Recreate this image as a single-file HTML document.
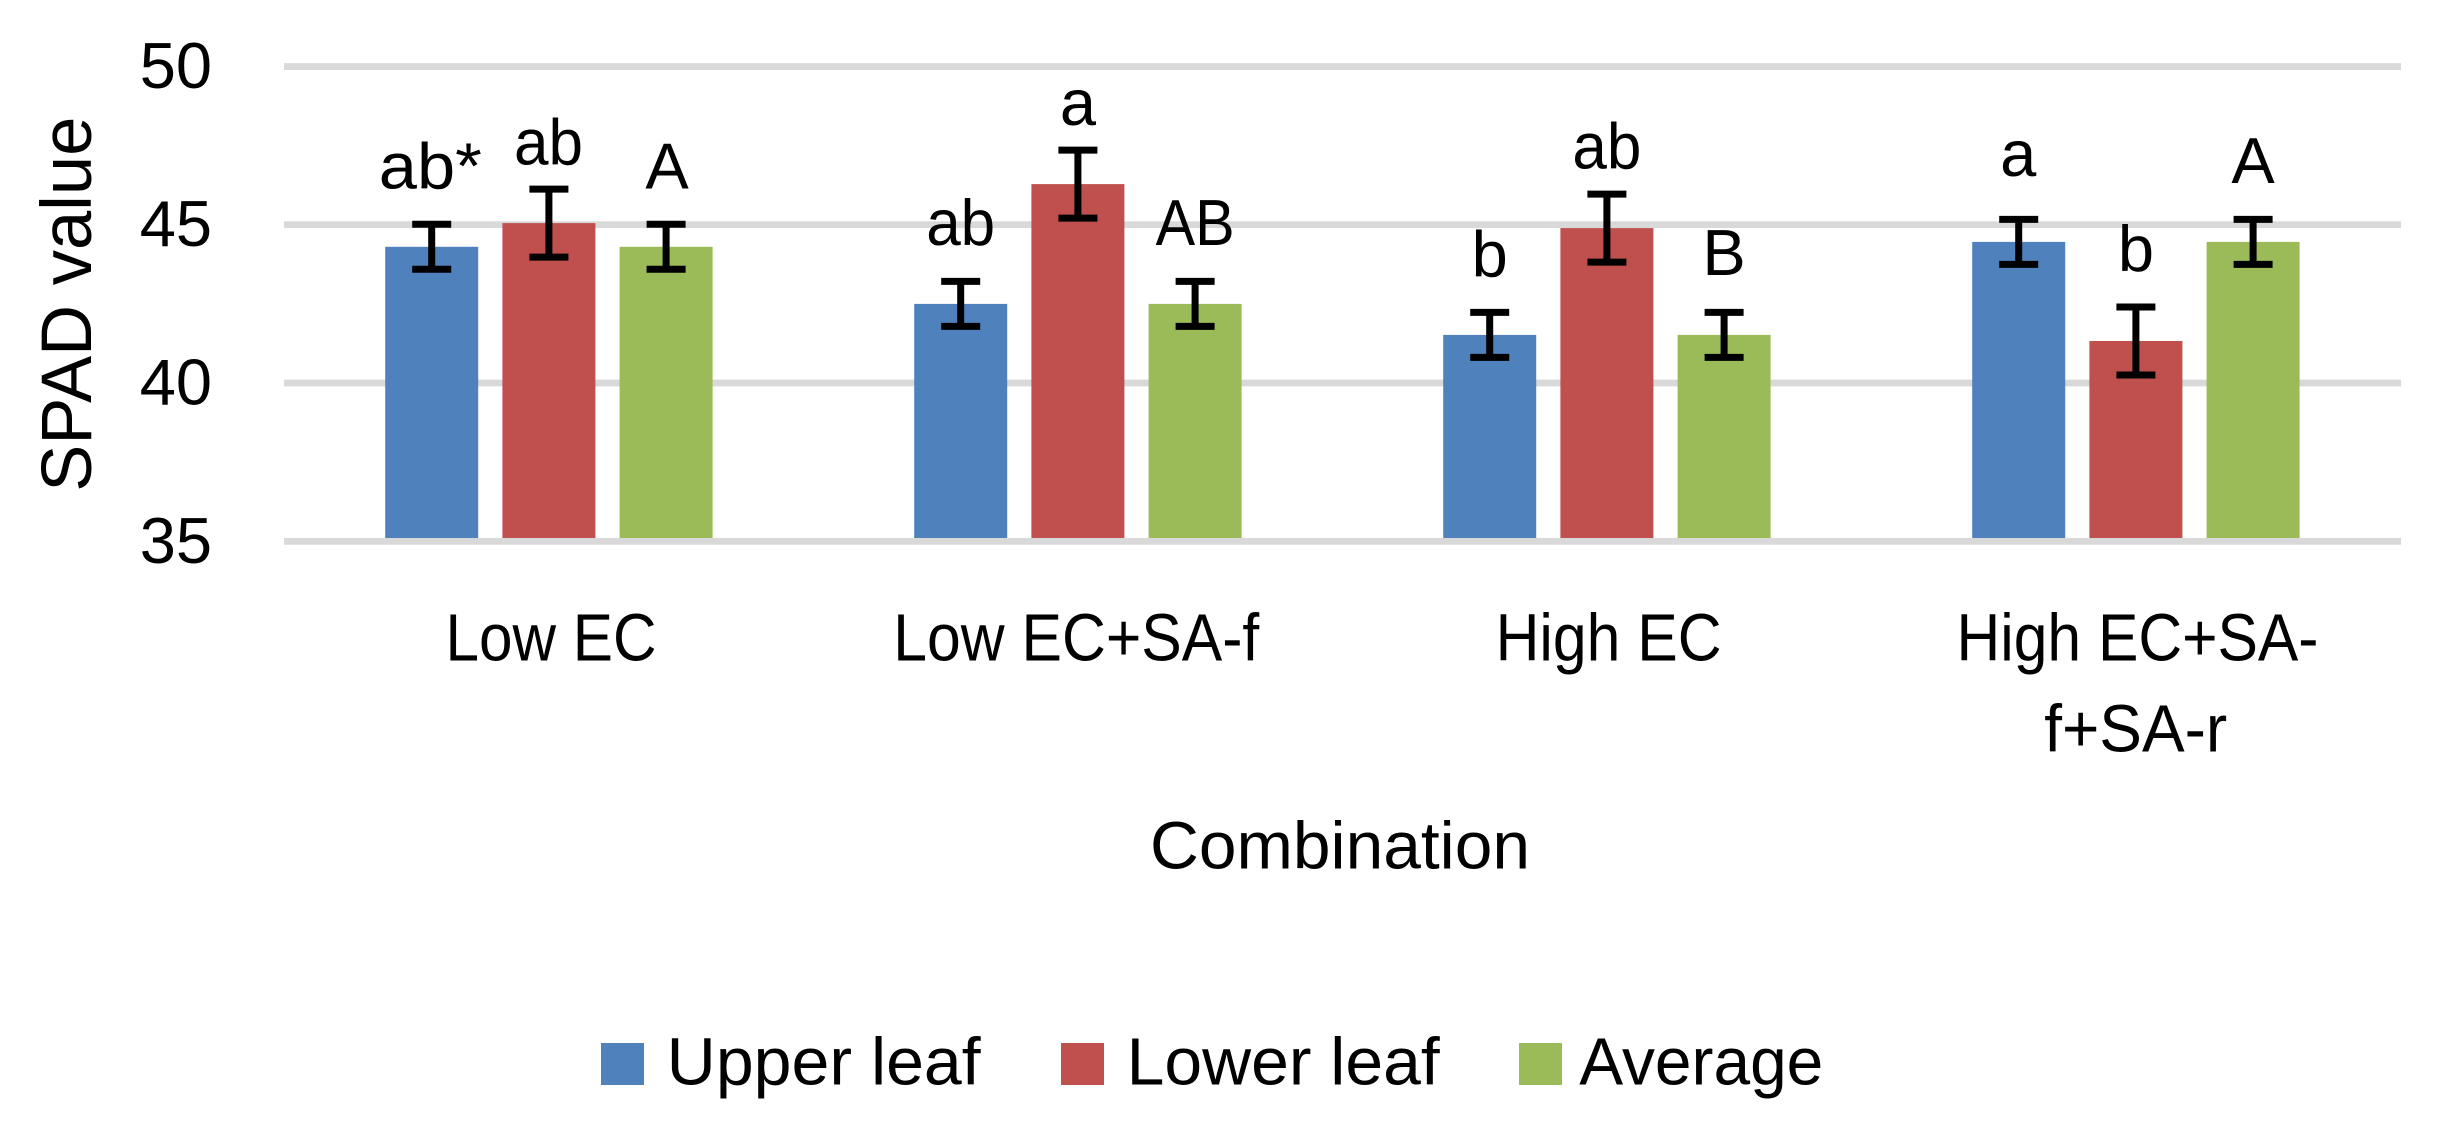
<!DOCTYPE html>
<html>
<head>
<meta charset="utf-8">
<style>
  html, body { margin: 0; padding: 0; background: #ffffff; }
  svg { display: block; }
  text { font-family: "Liberation Sans", sans-serif; fill: #000000; }
</style>
</head>
<body>
<svg width="2443" height="1135" viewBox="0 0 2443 1135" xmlns="http://www.w3.org/2000/svg">
  <rect x="0" y="0" width="2443" height="1135" fill="#ffffff"/>

  <!-- gridlines -->
  <g fill="#d9d9d9">
    <rect x="284" y="63.2" width="2117" height="6.8"/>
    <rect x="284" y="221.3" width="2117" height="6.8"/>
    <rect x="284" y="379.6" width="2117" height="6.8"/>
    <rect x="284" y="537.9" width="2117" height="6.8"/>
  </g>

  <!-- y tick labels -->
  <g font-size="65" text-anchor="end">
    <text x="212" y="88">50</text>
    <text x="212" y="246.2">45</text>
    <text x="212" y="404.5">40</text>
    <text x="212" y="562.8">35</text>
  </g>

  <!-- y axis title -->
  <text transform="translate(91,304.2) rotate(-90)" text-anchor="middle" font-size="71" textLength="375" lengthAdjust="spacingAndGlyphs">SPAD value</text>

  <!-- bars -->
  <g>
    <!-- group 1 -->
    <rect x="385.2" y="246.8" width="93" height="291.2" fill="#4f81bd"/>
    <rect x="502.4" y="223.1" width="93" height="314.9" fill="#c0504d"/>
    <rect x="619.6" y="246.8" width="93" height="291.2" fill="#9bbb59"/>
    <!-- group 2 -->
    <rect x="914.2" y="303.9" width="93" height="234.1" fill="#4f81bd"/>
    <rect x="1031.4" y="184.1" width="93" height="353.9" fill="#c0504d"/>
    <rect x="1148.6" y="303.9" width="93" height="234.1" fill="#9bbb59"/>
    <!-- group 3 -->
    <rect x="1443.2" y="334.9" width="93" height="203.1" fill="#4f81bd"/>
    <rect x="1560.4" y="228.1" width="93" height="309.9" fill="#c0504d"/>
    <rect x="1677.6" y="334.9" width="93" height="203.1" fill="#9bbb59"/>
    <!-- group 4 -->
    <rect x="1972.2" y="241.9" width="93" height="296.1" fill="#4f81bd"/>
    <rect x="2089.4" y="341" width="93" height="197" fill="#c0504d"/>
    <rect x="2206.6" y="241.9" width="93" height="296.1" fill="#9bbb59"/>
  </g>

  <!-- error bars -->
  <g stroke="#000000" stroke-width="7" fill="none">
    <!-- helper: stem + caps -->
    <!-- G1 blue cx=431.7 -->
    <path d="M431.7 224.3 V269.3 M412.2 224.3 H451.2 M412.2 269.3 H451.2"/>
    <!-- G1 red cx=548.9 -->
    <path d="M548.9 189.1 V257.1 M529.4 189.1 H568.4 M529.4 257.1 H568.4"/>
    <!-- G1 green cx=666.1 -->
    <path d="M666.1 224.3 V269.3 M646.6 224.3 H685.6 M646.6 269.3 H685.6"/>

    <!-- G2 -->
    <path d="M960.7 281.4 V326.4 M941.2 281.4 H980.2 M941.2 326.4 H980.2"/>
    <path d="M1077.9 150.1 V218.1 M1058.4 150.1 H1097.4 M1058.4 218.1 H1097.4"/>
    <path d="M1195.1 281.4 V326.4 M1175.6 281.4 H1214.6 M1175.6 326.4 H1214.6"/>

    <!-- G3 -->
    <path d="M1489.7 312.4 V357.4 M1470.2 312.4 H1509.2 M1470.2 357.4 H1509.2"/>
    <path d="M1606.9 194.1 V262.1 M1587.4 194.1 H1626.4 M1587.4 262.1 H1626.4"/>
    <path d="M1724.1 312.4 V357.4 M1704.6 312.4 H1743.6 M1704.6 357.4 H1743.6"/>

    <!-- G4 -->
    <path d="M2018.7 219.4 V264.4 M1999.2 219.4 H2038.2 M1999.2 264.4 H2038.2"/>
    <path d="M2135.9 307 V375 M2116.4 307 H2155.4 M2116.4 375 H2155.4"/>
    <path d="M2253.1 219.4 V264.4 M2233.6 219.4 H2272.6 M2233.6 264.4 H2272.6"/>
  </g>

  <!-- significance labels -->
  <g font-size="65" text-anchor="middle">
    <text x="430.3" y="188.3" textLength="103" lengthAdjust="spacingAndGlyphs">ab*</text>
    <text x="548.5" y="164.6" textLength="69" lengthAdjust="spacingAndGlyphs">ab</text>
    <text x="667" y="188.3">A</text>

    <text x="960.7" y="244.9" textLength="69" lengthAdjust="spacingAndGlyphs">ab</text>
    <text x="1077.9" y="125.1">a</text>
    <text x="1195.1" y="244.9" textLength="79" lengthAdjust="spacingAndGlyphs">AB</text>

    <text x="1489.7" y="276.3">b</text>
    <text x="1606.9" y="168.4" textLength="69" lengthAdjust="spacingAndGlyphs">ab</text>
    <text x="1724.1" y="274.8">B</text>

    <text x="2018.2" y="176">a</text>
    <text x="2135.9" y="270.9">b</text>
    <text x="2253.1" y="182.9">A</text>
  </g>

  <!-- category labels -->
  <g font-size="67" text-anchor="middle">
    <text x="551" y="660.5" textLength="211" lengthAdjust="spacingAndGlyphs">Low EC</text>
    <text x="1076.3" y="660.5" textLength="366" lengthAdjust="spacingAndGlyphs">Low EC+SA-f</text>
    <text x="1608.6" y="660.5" textLength="226" lengthAdjust="spacingAndGlyphs">High EC</text>
    <text x="2137.5" y="660.5" textLength="362" lengthAdjust="spacingAndGlyphs">High EC+SA-</text>
    <text x="2135.7" y="751.5" textLength="183" lengthAdjust="spacingAndGlyphs">f+SA-r</text>
  </g>

  <!-- x axis title -->
  <text x="1340" y="868.7" font-size="67" text-anchor="middle" textLength="380" lengthAdjust="spacingAndGlyphs">Combination</text>

  <!-- legend -->
  <rect x="601" y="1043" width="43" height="42" fill="#4f81bd"/>
  <text x="666.7" y="1084.7" font-size="67" textLength="314" lengthAdjust="spacingAndGlyphs">Upper leaf</text>
  <rect x="1061" y="1043" width="43" height="42" fill="#c0504d"/>
  <text x="1126.7" y="1084.7" font-size="67" textLength="313" lengthAdjust="spacingAndGlyphs">Lower leaf</text>
  <rect x="1519" y="1043" width="43" height="42" fill="#9bbb59"/>
  <text x="1579.3" y="1084.7" font-size="67" textLength="244" lengthAdjust="spacingAndGlyphs">Average</text>
</svg>
</body>
</html>
